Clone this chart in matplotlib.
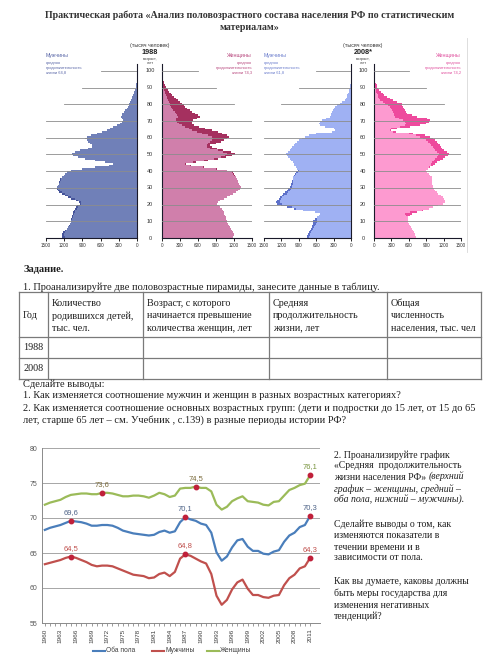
import matplotlib
matplotlib.use('Agg')
import matplotlib.pyplot as plt
import numpy as np

plt.rcParams['font.family'] = ['Liberation Serif', 'DejaVu Serif']

W, H = 500, 656

# население по однолетним возрастам 0..100, тыс. человек
ages = np.arange(101)
men_1988 = [1230, 1240, 1235, 1220, 1180, 1150, 1130, 1115, 1105, 1095,
            1085, 1080, 1070, 1065, 1055, 1050, 1040, 1025, 1010, 985,
            945, 960, 1010, 1080, 1140, 1190, 1240, 1280, 1310, 1320,
            1315, 1300, 1290, 1285, 1275, 1265, 1240, 1205, 1180, 1160,
            1080, 900, 690, 460, 390, 520, 700, 860, 980, 1050,
            1075, 1020, 940, 800, 750, 745, 770, 800, 830, 855,
            830, 760, 665, 580, 500, 445, 390, 330, 285, 250,
            225, 240, 265, 255, 240, 215, 190, 170, 155, 140,
            130, 115, 102, 90, 78, 66, 55, 45, 33, 24,
            16, 12, 9, 7, 5, 4, 3, 2, 1, 1, 1]
women_1988 = [1190, 1200, 1200, 1190, 1170, 1150, 1130, 1110, 1100, 1090,
              1080, 1070, 1060, 1050, 1040, 1030, 1015, 995, 970, 945,
              915, 930, 970, 1030, 1090, 1140, 1190, 1240, 1270, 1300,
              1315, 1300, 1285, 1270, 1260, 1250, 1240, 1220, 1205, 1175,
              1090, 910, 700, 480, 400, 560, 770, 930, 1060, 1160,
              1220, 1150, 1020, 910, 830, 800, 900, 990, 1040, 1080,
              1110, 1080, 1000, 940, 830, 720, 610, 540, 500, 505,
              520, 580, 630, 600, 550, 500, 460, 420, 390, 360,
              330, 300, 260, 230, 200, 170, 150, 120, 95, 78,
              62, 50, 40, 32, 24, 16, 12, 8, 5, 3, 2]
men_2008 = [760, 755, 740, 725, 710, 695, 680, 670, 660, 655,
            650, 620, 590, 560, 540, 620, 820, 980, 1110, 1210,
            1270, 1290, 1270, 1250, 1220, 1195, 1165, 1140, 1110, 1080,
            1050, 1040, 1030, 1020, 1010, 1000, 995, 980, 965, 940,
            910, 930, 955, 975, 990, 1000, 1030, 1060, 1090, 1110,
            1120, 1090, 1060, 1040, 1010, 990, 960, 930, 900, 850,
            795, 720, 600, 330, 270, 300, 440, 540, 555, 535,
            505, 430, 360, 350, 340, 335, 315, 295, 275, 235,
            190, 150, 105, 90, 75, 65, 50, 40, 30, 22,
            15, 11, 8, 6, 4, 3, 2, 1, 1, 1, 0]
women_2008 = [720, 715, 705, 685, 665, 650, 635, 615, 595, 585,
              580, 585, 592, 615, 650, 735, 850, 940, 1025, 1110,
              1195, 1220, 1225, 1210, 1185, 1150, 1110, 1080, 1050, 1035,
              1025, 1010, 1000, 995, 995, 995, 995, 965, 940, 915,
              900, 930, 965, 1010, 1050, 1085, 1140, 1190, 1225, 1270,
              1290, 1260, 1210, 1180, 1160, 1140, 1110, 1080, 1050, 1010,
              965, 880, 680, 380, 300, 390, 620, 790, 900, 940,
              960, 910, 740, 650, 565, 545, 535, 520, 505, 490,
              477, 400, 333, 270, 218, 180, 150, 120, 92, 72,
              57, 45, 30, 17, 12, 8, 6, 4, 3, 2, 1]

# средняя продолжительность жизни, лет
years = list(range(1960, 2012))
life_total = [68.3, 68.6, 68.8, 69.0, 69.3, 69.6, 69.5, 69.4, 69.2, 68.9,
              68.9, 69.0, 69.0, 68.9, 68.6, 68.2, 68.0, 67.8, 67.7, 67.6,
              67.5, 67.6, 68.0, 68.2, 67.9, 68.1, 69.4, 70.1, 69.8, 69.6,
              69.2, 69.0, 67.9, 65.1, 63.9, 64.5, 65.8, 66.8, 67.0, 65.9,
              65.3, 65.3, 64.9, 64.8, 65.2, 65.4, 66.6, 67.5, 67.9, 68.7,
              69.0, 70.3]
life_men = [63.4, 63.6, 63.8, 64.0, 64.3, 64.5, 64.3, 64.0, 63.7, 63.3,
            63.1, 63.2, 63.2, 63.1, 62.8, 62.5, 62.2, 61.9, 61.8, 61.7,
            61.4, 61.5, 62.0, 62.2, 61.7, 62.3, 64.2, 64.8, 64.6, 64.2,
            63.8, 63.5, 62.0, 58.9, 57.6, 58.3, 59.8, 60.8, 61.2, 59.9,
            59.0, 59.0, 58.7, 58.6, 58.9, 59.0, 60.4, 61.4, 61.9, 62.8,
            63.1, 64.3]
life_women = [71.9, 72.2, 72.4, 72.6, 73.0, 73.3, 73.4, 73.5, 73.5, 73.4,
              73.4, 73.6, 73.6, 73.5, 73.3, 73.1, 73.1, 73.2, 73.2, 73.1,
              72.9, 73.2, 73.6, 73.4, 73.0, 73.2, 74.2, 74.3, 74.3, 74.5,
              74.3, 74.3, 73.8, 71.9, 71.2, 71.6, 72.4, 72.8, 73.1, 72.4,
              72.3, 72.2, 71.9, 71.8, 72.3, 72.4, 73.2, 74.0, 74.3, 74.7,
              74.9, 76.1]
marks_total = [1965, 1987, 2011]
marks_men = [1965, 1987, 2011]
marks_women = [1971, 1989, 2011]


def rect(x0, y0, x1, y1):
    return [x0 / W, 1 - y1 / H, (x1 - x0) / W, (y1 - y0) / H]


fig = plt.figure(figsize=(5, 6.56), dpi=100)
bg = fig.add_axes([0, 0, 1, 1])
bg.set_xlim(0, W)
bg.set_ylim(H, 0)
bg.axis('off')

txt = '#1e1e1e'
fs = 7.45

# заголовок
bg.text(250, 15, 'Практическая работа «Анализ половозрастного состава населения РФ по статистическим',
        ha='center', va='center', fontsize=7.2, fontweight='bold', color='#333333')
bg.text(250, 27, 'материалам»', ha='center', va='center', fontsize=7.2,
        fontweight='bold', color='#333333')

# пирамиды
AGE0, PX_YR, TOP = 238, 1.67, 104
sans = ['Liberation Sans', 'DejaVu Sans']


def pyramid(xm, xf, xc, men, women, cm, cm2, cf, cf2, year, life_m, life_f, lab_m, lab_f):
    men = np.array(men, float)
    women = np.array(women, float)
    base = np.minimum(men, women)
    y = np.append(ages, 101)
    ext = lambda a: np.append(a, a[-1])
    ytop = AGE0 - TOP * PX_YR
    ax_m = fig.add_axes(rect(xm[0], ytop, xm[1], AGE0))
    ax_f = fig.add_axes(rect(xf[0], ytop, xf[1], AGE0))
    for ax, own, dark_c, base_c in ((ax_m, men, cm2, cm), (ax_f, women, cf2, cf)):
        ax.fill_betweenx(y, 0, ext(base), step='post', color=base_c, lw=0)
        ax.fill_betweenx(y, ext(base), ext(own), step='post', color=dark_c, lw=0)
        for a in range(10, 101, 10):
            L = {100: 600, 90: 900, 80: 1200}.get(a, 1500)
            ax.plot([0, L], [a, a], color='#8c8c8c', lw=0.6, zorder=3)
        ax.set_ylim(0, TOP)
        ax.set_yticks([])
        ax.patch.set_alpha(0)
        ax.spines['top'].set_visible(False)
        ax.tick_params(axis='x', labelsize=3.3, length=2, width=0.6, pad=1.5,
                       labelcolor='#333333')
    ax_m.set_xlim(1500, 0)
    ax_f.set_xlim(0, 1500)
    ax_m.spines['left'].set_visible(False)
    ax_f.spines['right'].set_visible(False)
    for ax in (ax_m, ax_f):
        ax.set_xticks([0, 300, 600, 900, 1200, 1500])
        for s in ax.spines.values():
            s.set_color('#1a1a2a')
            s.set_linewidth(0.8)
        for lab in ax.get_xticklabels():
            lab.set_family(sans)
    for a in range(0, 101, 10):
        bg.text(xc, AGE0 - a * PX_YR, str(a), ha='center', va='center', fontsize=4,
                family=sans, color='#333333')
    bg.text(xc, 46, '(тысяч человек)', ha='center', va='center', fontsize=3.8, family=sans, color='#333333')
    bg.text(xc, 52.5, year, ha='center', va='center', fontsize=5.2, family=sans,
            fontweight='bold', color='#222222')
    bg.text(xc, 59, 'возраст,', ha='center', va='center', fontsize=2.8, family=sans, color='#444444')
    bg.text(xc, 63.5, 'лет', ha='center', va='center', fontsize=2.8, family=sans, color='#444444')
    bg.text(xm[0], 55, 'Мужчины', ha='left', va='center', fontsize=3.8, family=sans, color=lab_m)
    bg.text(xf[1], 55, 'Женщины', ha='right', va='center', fontsize=3.8, family=sans, color=lab_f)
    for i, s in enumerate(['средняя', 'продолжительность', 'жизни ' + life_m]):
        bg.text(xm[0], 63 + 5 * i, s, ha='left', va='center', fontsize=2.9, family=sans, color=lab_m)
    for i, s in enumerate(['средняя', 'продолжительность', 'жизни ' + life_f]):
        bg.text(xf[1], 63 + 5 * i, s, ha='right', va='center', fontsize=2.9, family=sans, color=lab_f)


pyramid((46, 137), (162, 252), 150, men_1988, women_1988,
        '#7080b8', '#46549a', '#d07fab', '#a5305f', '1988', '64,8', '74,3', '#5a67a8', '#b8487e')
pyramid((264, 351), (374, 461), 363, men_2008, women_2008,
        '#9fb1f3', '#5d70c9', '#fd9ad0', '#ee4a9d', '2008*', '61,8', '74,2', '#6a7ccc', '#e0509e')
bg.plot([467, 467], [38, 252], color='#d8d8d8', lw=0.6)

# задание и таблица
bg.text(23, 269, 'Задание.', ha='left', va='center', fontsize=fs, fontweight='bold', color=txt)
bg.text(23, 287, '1. Проанализируйте две половозрастные пирамиды, занесите данные в таблицу.',
        ha='left', va='center', fontsize=fs, color=txt)
tcol = [19, 48, 143, 269, 387, 481]
trow = [292, 337, 358, 379]
for x in tcol:
    bg.plot([x, x], [trow[0], trow[-1]], color='#7a7a7a', lw=0.9)
for yy in trow:
    bg.plot([tcol[0], tcol[-1]], [yy, yy], color='#7a7a7a', lw=0.9)
headers = [['Год'],
           ['Количество', 'родившихся детей,', 'тыс. чел.'],
           ['Возраст, с которого', 'начинается превышение', 'количества женщин, лет'],
           ['Средняя', 'продолжительность', 'жизни, лет'],
           ['Общая', 'численность', 'населения, тыс. чел']]
fs_t = 7.25
for j, lines in enumerate(headers):
    if len(lines) == 1:
        bg.text(tcol[j] + 4, 315, lines[0], ha='left', va='center', fontsize=fs_t, color=txt)
    else:
        for i, s in enumerate(lines):
            bg.text(tcol[j] + 4, 303.5 + 12.3 * i, s, ha='left', va='center', fontsize=fs_t, color=txt)
bg.text(23, 347.5, '1988', ha='left', va='center', fontsize=fs_t, color=txt)
bg.text(23, 368.5, '2008', ha='left', va='center', fontsize=fs_t, color=txt)

bg.text(23, 384, 'Сделайте выводы:', ha='left', va='center', fontsize=fs, color=txt)
bg.text(23, 396, '1. Как изменяется соотношение мужчин и женщин в разных возрастных категориях?',
        ha='left', va='center', fontsize=fs, color=txt)
bg.text(23, 408, '2. Как изменяется соотношение основных возрастных групп: (дети и подростки до 15 лет, от 15 до 65',
        ha='left', va='center', fontsize=fs, color=txt)
bg.text(23, 420, 'лет, старше 65 лет – см. Учебник , с.139) в разные периоды истории РФ?',
        ha='left', va='center', fontsize=fs, color=txt)

# график продолжительности жизни
ax = fig.add_axes(rect(42, 448, 320, 623))
c_total, c_men, c_women = '#4a7ebb', '#c0504d', '#9bbb59'
ax.plot(years, life_women, color=c_women, lw=1.6, zorder=3)
ax.plot(years, life_total, color=c_total, lw=1.6, zorder=3)
ax.plot(years, life_men, color=c_men, lw=1.6, zorder=3)
for series, marks, tc in ((life_women, marks_women, ['#7a6a3a', '#7a6a3a', '#77933c']),
                          (life_total, marks_total, ['#4f6488', '#4f6488', '#4f6488']),
                          (life_men, marks_men, ['#c0504d', '#c0504d', '#c0504d'])):
    for yr, col in zip(marks, tc):
        v = series[years.index(yr)]
        ax.plot(yr, v, 'o', ms=3.2, color='#c0203a', zorder=4)
        ax.annotate(f'{v:.1f}'.replace('.', ','), (yr, v), xytext=(0, 3.5),
                    textcoords='offset points', ha='center', va='bottom',
                    fontsize=5.5, color=col, family=sans)
ax.set_ylim(55, 80)
ax.set_xlim(1959.45, 2012.9)
ax.set_yticks(range(55, 81, 5))
ax.grid(axis='y', color='#a6a6a6', lw=0.7)
ax.set_axisbelow(True)
ax.set_xticks(years)
ax.set_xticklabels([str(y) if (y - 1960) % 3 == 0 else '' for y in years], rotation=90)
ax.tick_params(axis='y', length=0, labelsize=5, labelcolor='#595959', pad=3)
ax.tick_params(axis='x', length=2.5, width=0.6, color='#8a8a8a', labelsize=4.6,
               labelcolor='#404040', pad=1.5)
for lab in ax.get_xticklabels() + ax.get_yticklabels():
    lab.set_family(sans)
for s in ('top', 'right'):
    ax.spines[s].set_visible(False)
for s in ('left', 'bottom'):
    ax.spines[s].set_color('#8a8a8a')
    ax.spines[s].set_linewidth(0.7)

# легенда
for x0, col, name in ((93, c_total, 'Оба пола'), (152, c_men, 'Мужчины'), (207, c_women, 'Женщины')):
    bg.plot([x0, x0 + 12], [651, 651], color=col, lw=1.5)
    bg.text(x0 + 13, 651, name, ha='left', va='center', fontsize=4.8, family=sans, color='#404040')

# текст справа от графика
rx, fs_r = 334, 7.05
right_lines = [(455, '2. Проанализируйте график', None),
               (466, '«Средняя  продолжительность', None),
               (477, 'жизни населения РФ» ', '(верхний'),
               (489, '', 'график – женщины, средний –'),
               (500, '', 'оба пола, нижний – мужчины).'),
               (524, 'Сделайте выводы о том, как', None),
               (535, 'изменяются показатели в', None),
               (547, 'течении времени и в', None),
               (558, 'зависимости от пола.', None),
               (582, 'Как вы думаете, каковы должны', None),
               (593, 'быть меры государства для', None),
               (605, 'изменения негативных', None),
               (616, 'тенденций?', None)]
renderer = fig.canvas.get_renderer()
for yy, reg, ital in right_lines:
    x = rx
    if reg:
        t = bg.text(x, yy, reg, ha='left', va='center', fontsize=fs_r, color=txt)
        bb = t.get_window_extent(renderer)
        x = bb.x1 * W / fig.bbox.width
    if ital:
        bg.text(x, yy, ital, ha='left', va='center', fontsize=fs_r, style='italic', color=txt)

fig.savefig('out.png', dpi=100)
